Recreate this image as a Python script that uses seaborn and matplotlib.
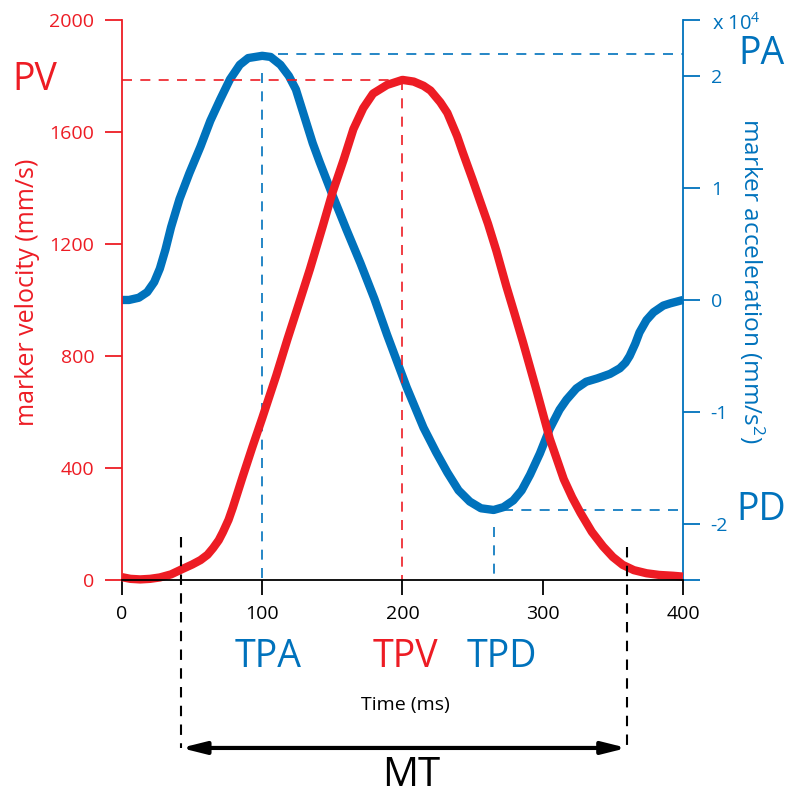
import matplotlib
matplotlib.use("Agg")
import numpy as np
import pandas as pd
import matplotlib.pyplot as plt
import seaborn as sns

# ---- data -------------------------------------------------------------
# marker velocity (mm/s)
time_vel = [0, 6, 13, 20, 27, 35, 43, 50, 56, 61, 65, 69, 72, 76, 79, 86, 93,
            100, 110, 118, 127, 134, 143, 150, 158, 165, 172, 179, 189, 200,
            208, 215, 220, 227, 232, 239, 243, 250, 255, 261, 267, 274, 280,
            286, 296, 305, 315, 321, 327, 335, 343, 350, 357, 365, 374, 383,
            393, 400]
velocity = [10, 4, 2, 4, 9, 20, 39, 55, 71, 90, 114, 142, 171, 215, 258, 368,
            475, 578, 730, 860, 1000, 1110, 1261, 1382, 1500, 1610, 1685, 1737,
            1768, 1786, 1780, 1765, 1748, 1706, 1668, 1585, 1527, 1430, 1358,
            1272, 1175, 1050, 950, 848, 670, 505, 360, 295, 239, 172, 120, 82,
            54, 35, 24, 18, 15, 12]

# marker acceleration (x 10^4 mm/s^2)
time_acc = [0, 5, 12, 18, 23, 27, 31, 35, 41, 48, 56, 63, 70, 77, 84, 90, 100,
            106, 113, 119, 124, 129, 136, 141, 150, 160, 170, 180, 189, 203,
            215, 224, 232, 240, 248, 256, 265, 272, 279, 285, 291, 298, 305,
            312, 317, 324, 331, 339, 348, 355, 359, 362, 366, 369, 374, 379,
            386, 391, 400]
acceleration = [0.0, 0.0, 0.02, 0.07, 0.16, 0.28, 0.45, 0.65, 0.90, 1.13, 1.37,
                1.60, 1.79, 1.97, 2.10, 2.16, 2.18, 2.17, 2.10, 2.00, 1.88,
                1.68, 1.40, 1.23, 0.94, 0.63, 0.33, 0.01, -0.31, -0.78, -1.14,
                -1.36, -1.54, -1.70, -1.80, -1.86, -1.875, -1.85, -1.79, -1.70,
                -1.56, -1.37, -1.15, -0.98, -0.89, -0.79, -0.73, -0.70, -0.66,
                -0.61, -0.56, -0.50, -0.39, -0.29, -0.18, -0.11, -0.05, -0.03,
                0.0]

vel_ticks = [0, 400, 800, 1200, 1600, 2000]
acc_ticks = [-2.5, -2, -1, 0, 1, 2, 2.5]
acc_tick_labels = ["", "-2", "-1", "0", "1", "2", ""]
time_ticks = [0, 100, 200, 300, 400]

# movement onset / offset (ms)
mt_start, mt_end = 42, 360

RED = "#ED1C24"
BLUE = "#0072BC"

vel_df = pd.DataFrame({"time": time_vel, "velocity": velocity})
acc_df = pd.DataFrame({"time": time_acc, "acceleration": acceleration})

# key events
pv = vel_df["velocity"].max()
tpv = vel_df.loc[vel_df["velocity"].idxmax(), "time"]
pa = 2.2
tpa = acc_df.loc[acc_df["acceleration"].idxmax(), "time"]
pd_val = acc_df["acceleration"].min()
tpd = acc_df.loc[acc_df["acceleration"].idxmin(), "time"]

# ---- style ------------------------------------------------------------
sns.set_theme(style="white")
plt.rcParams["font.family"] = ["Open Sans", "DejaVu Sans"]
plt.rcParams["mathtext.fontset"] = "custom"
plt.rcParams["mathtext.rm"] = "Open Sans"
plt.rcParams["mathtext.it"] = "Open Sans"

fig = plt.figure(figsize=(7.9, 7.96), dpi=100)
fig.patch.set_facecolor("white")
ax = fig.add_axes([0.1544, 0.2714, 0.7101, 0.7035])
ax2 = ax.twinx()

# velocity on top of acceleration
ax.set_zorder(ax2.get_zorder() + 1)
ax.patch.set_visible(False)

sns.lineplot(data=acc_df, x="time", y="acceleration", ax=ax2, color=BLUE,
             lw=6, solid_capstyle="butt", solid_joinstyle="round",
             clip_on=False)
sns.lineplot(data=vel_df, x="time", y="velocity", ax=ax, color=RED,
             lw=6, solid_capstyle="butt", solid_joinstyle="round",
             clip_on=False)

ax.set_xlim(0, 400)
ax.set_ylim(0, 2000)
ax2.set_ylim(-2.5, 2.5)

# spines
for s in ["top", "right"]:
    ax.spines[s].set_visible(False)
for s in ["top", "left", "bottom"]:
    ax2.spines[s].set_visible(False)
ax.spines["left"].set_color(RED)
ax.spines["bottom"].set_color("black")
ax2.spines["right"].set_color(BLUE)
for sp in (ax.spines["left"], ax.spines["bottom"], ax2.spines["right"]):
    sp.set_linewidth(1.3)

# ticks
ax.set_xticks(time_ticks)
ax.set_yticks(vel_ticks)
ax2.set_yticks(acc_ticks)
ax2.set_yticklabels(acc_tick_labels)
ax.tick_params(axis="y", colors=RED, length=12, width=1.3, direction="out",
               labelsize=14, pad=8, left=True)
ax.tick_params(axis="x", colors="black", length=11, width=1.3, direction="out",
               labelsize=14, pad=7, bottom=True)
ax2.tick_params(axis="y", colors=BLUE, length=12, width=1.3, direction="out",
                labelsize=14, pad=8, right=True)
ax.set_xlabel("")
ax.set_ylabel("")
ax2.set_ylabel("")

ax2.text(421, 2.41, r"x 10$^4$", color=BLUE, fontsize=14.5, ha="left",
         va="baseline", clip_on=False)

# axis titles
ax.text(-0.1676, 0.514, "marker velocity (mm/s)", transform=ax.transAxes,
        rotation=90, color=RED, fontsize=18, ha="center", va="center")
ax.text(1.123, 0.534, r"marker acceleration (mm/s$^2$)", transform=ax.transAxes,
        rotation=-90, color=BLUE, fontsize=17.6, ha="center", va="center")

# reference lines for the peaks
dash = (0, (6, 5))
ax.plot([0, tpv], [pv, pv], color=RED, lw=1.2, ls=dash)
ax.plot([tpv, tpv], [pv, 0], color=RED, lw=1.2, ls=dash)
ax2.plot([111, 400], [pa, pa], color=BLUE, lw=1.2, ls=dash)
ax2.plot([tpa, tpa], [2.03, -2.5], color=BLUE, lw=1.2, ls=dash)
ax2.plot([272, 400], [pd_val, pd_val], color=BLUE, lw=1.2, ls=dash)
ax2.plot([tpd, tpd], [-2.03, -2.5], color=BLUE, lw=1.2, ls=dash)

# peak labels
ax.text(-62, pv, "PV", color=RED, fontsize=27, ha="center", va="center",
        clip_on=False)
ax2.text(456, pa, "PA", color=BLUE, fontsize=27, ha="center", va="center",
         clip_on=False)
ax2.text(456, pd_val, "PD", color=BLUE, fontsize=27, ha="center", va="center",
         clip_on=False)

# event time labels under the axis
ax.text(tpa + 4, -275, "TPA", color=BLUE, fontsize=27, ha="center",
        va="center", clip_on=False)
ax.text(tpv + 2, -275, "TPV", color=RED, fontsize=27, ha="center",
        va="center", clip_on=False)
ax.text(tpd + 6, -275, "TPD", color=BLUE, fontsize=27, ha="center",
        va="center", clip_on=False)
ax.text(202, -446, "Time (ms)", color="black", fontsize=14, ha="center",
        va="center", clip_on=False)

# movement time bracket
mt_dash = (0, (5, 4))
ax.plot([mt_start, mt_start], [154, -600], color="black", lw=1.5, ls=mt_dash,
        clip_on=False)
ax.plot([mt_end, mt_end], [118, -600], color="black", lw=1.5, ls=mt_dash,
        clip_on=False)
ax.annotate("", xy=(mt_start, -600), xytext=(mt_end, -600),
            arrowprops=dict(arrowstyle="<|-|>,head_length=1.2,head_width=0.3",
                            color="black", lw=3, shrinkA=0, shrinkB=0),
            annotation_clip=False)
ax.text(206, -700, "MT", color="black", fontsize=29, ha="center",
        va="center", clip_on=False)

fig.savefig("out.png", dpi=100, facecolor="white")
